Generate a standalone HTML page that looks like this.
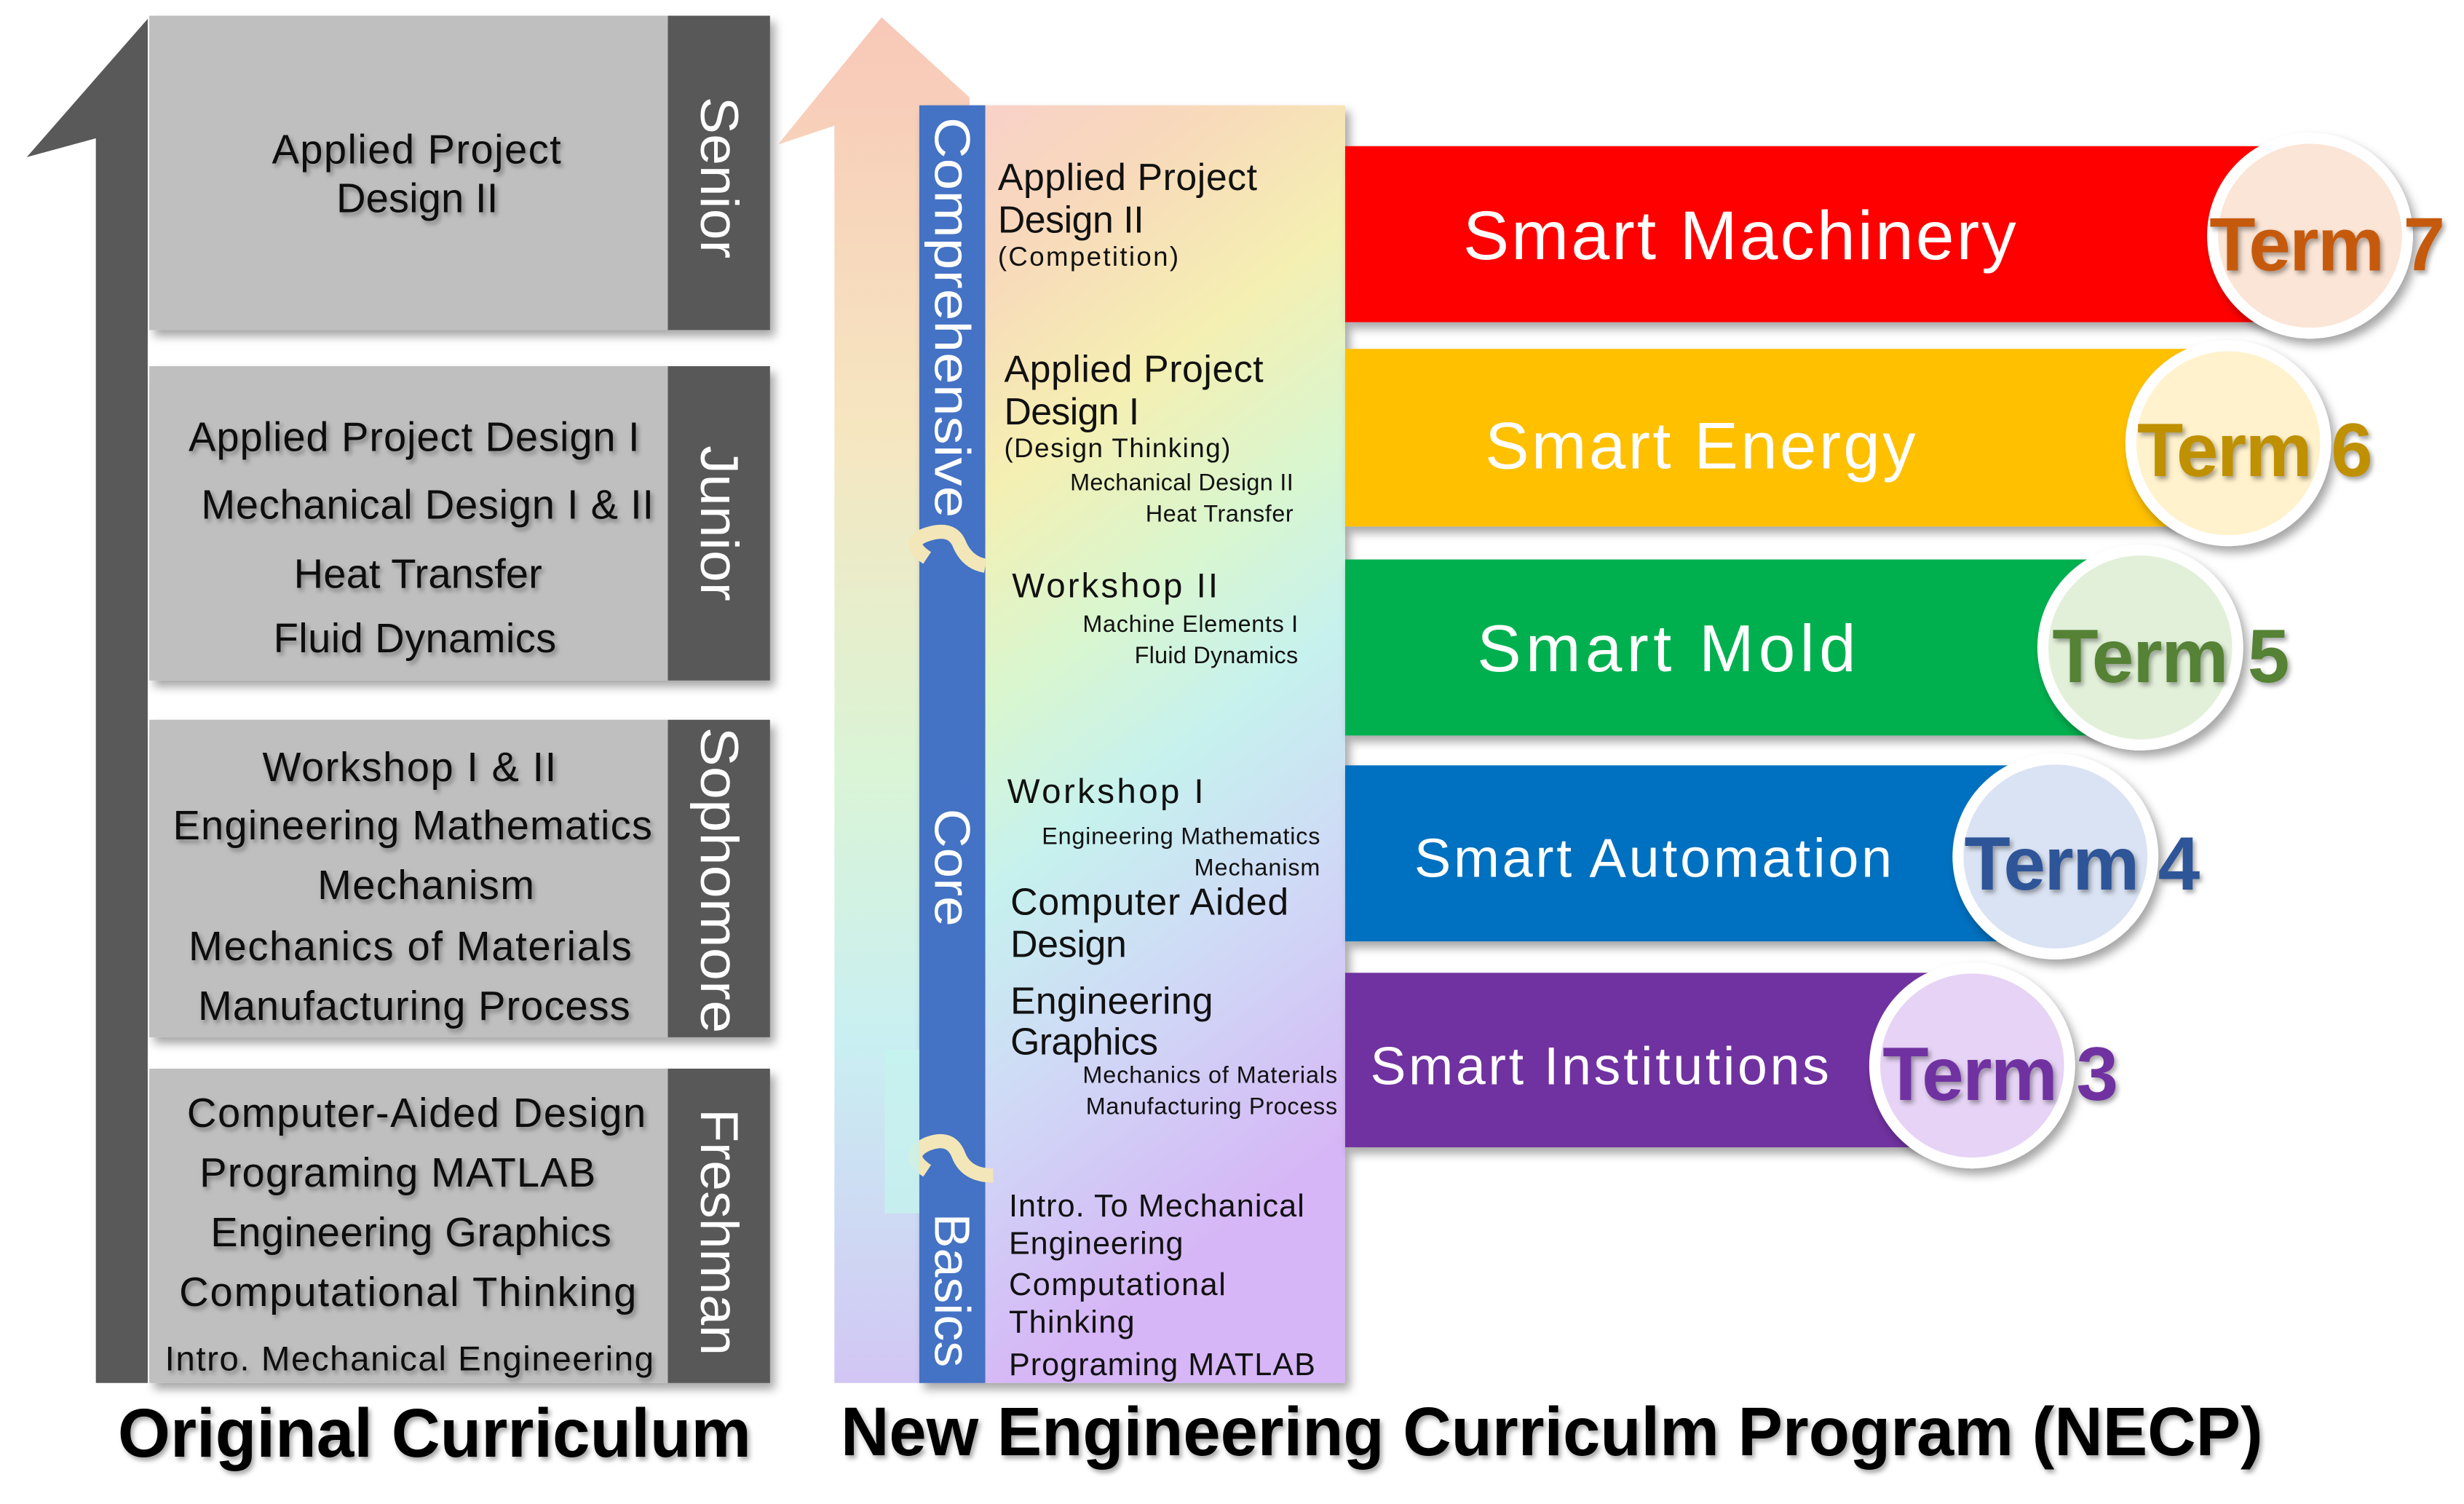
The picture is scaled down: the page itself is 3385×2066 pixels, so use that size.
<!DOCTYPE html>
<html><head><meta charset="utf-8"><style>
html,body{margin:0;padding:0;background:#fff;}
svg{display:block;}
text{font-family:"Liberation Sans",sans-serif;}
</style></head><body>
<svg width="3385" height="2066" viewBox="0 0 1568 957" preserveAspectRatio="none" xmlns="http://www.w3.org/2000/svg">
<defs>
<filter id="sh" x="-10%" y="-10%" width="130%" height="130%"><feDropShadow dx="3" dy="4" stdDeviation="3" flood-color="#000" flood-opacity="0.35"/></filter>
<filter id="ts" x="-5%" y="-20%" width="115%" height="160%"><feDropShadow dx="1.5" dy="2" stdDeviation="1.5" flood-color="#000" flood-opacity="0.35"/></filter>
<linearGradient id="rv" x1="0" y1="0" x2="0.25" y2="1">
<stop offset="0" stop-color="#f9cfcc"/>
<stop offset="0.15" stop-color="#f8d8bc"/>
<stop offset="0.32" stop-color="#f5efb2"/>
<stop offset="0.48" stop-color="#d9f6cf"/>
<stop offset="0.62" stop-color="#c6f1ee"/>
<stop offset="0.78" stop-color="#cfdaf6"/>
<stop offset="1" stop-color="#d6b6f6"/>
</linearGradient>
<linearGradient id="ra" x1="0" y1="0" x2="0" y2="1">
<stop offset="0" stop-color="#f8c8b8"/>
<stop offset="0.3" stop-color="#f6e6c0"/>
<stop offset="0.55" stop-color="#daf4d6"/>
<stop offset="0.75" stop-color="#c9eff2"/>
<stop offset="1" stop-color="#d2c6f4"/>
</linearGradient>
</defs>

<!-- LEFT: original curriculum -->
<polygon points="17,100 94,12 94,880 61,880 61,88" fill="#595959"/>
<g filter="url(#sh)">
<rect x="95" y="10" width="330" height="200" fill="#bfbfbf"/><rect x="425" y="10" width="65" height="200" fill="#595959"/>
<rect x="95" y="233" width="330" height="200" fill="#bfbfbf"/><rect x="425" y="233" width="65" height="200" fill="#595959"/>
<rect x="95" y="458" width="330" height="202" fill="#bfbfbf"/><rect x="425" y="458" width="65" height="202" fill="#595959"/>
<rect x="95" y="680" width="330" height="200" fill="#bfbfbf"/><rect x="425" y="680" width="65" height="200" fill="#595959"/>
</g>
<g font-size="26" fill="#111" filter="url(#ts)" lengthAdjust="spacingAndGlyphs">
<text x="173" y="104" textLength="184">Applied Project</text>
<text x="214" y="135" textLength="103">Design II</text>
<text x="120" y="287" textLength="287">Applied Project Design I</text>
<text x="128" y="330" textLength="288">Mechanical Design I &amp; II</text>
<text x="187" y="374" textLength="158">Heat Transfer</text>
<text x="174" y="415" textLength="180">Fluid Dynamics</text>
<text x="167" y="497" textLength="187">Workshop I &amp; II</text>
<text x="110" y="534" textLength="305">Engineering Mathematics</text>
<text x="202" y="572" textLength="138">Mechanism</text>
<text x="120" y="611" textLength="282">Mechanics of  Materials</text>
<text x="126" y="649" textLength="275">Manufacturing Process</text>
<text x="119" y="717" textLength="292">Computer-Aided Design</text>
<text x="127" y="755" textLength="252">Programing MATLAB</text>
<text x="134" y="793" textLength="255">Engineering Graphics</text>
<text x="114" y="831" textLength="291">Computational Thinking</text>
<text x="105" y="872" font-size="22" textLength="311">Intro. Mechanical Engineering</text>
</g>
<g font-size="34" fill="#fff" text-anchor="middle">
<text transform="translate(446,113) rotate(90)" textLength="103" lengthAdjust="spacingAndGlyphs">Senior</text>
<text transform="translate(446,333) rotate(90)" textLength="99" lengthAdjust="spacingAndGlyphs">Junior</text>
<text transform="translate(446,560) rotate(90)" textLength="195" lengthAdjust="spacingAndGlyphs">Sophomore</text>
<text transform="translate(446,784) rotate(90)" textLength="157" lengthAdjust="spacingAndGlyphs">Freshman</text>
</g>
<text x="75" y="927" font-size="44" font-weight="bold" fill="#000" filter="url(#ts)" textLength="403" lengthAdjust="spacingAndGlyphs">Original Curriculum</text>

<!-- MIDDLE: NECP -->
<polygon points="495,92 561,11 617,62 617,880 531,880 531,80" fill="url(#ra)"/>
<rect x="585" y="67" width="271" height="813" fill="url(#rv)" filter="url(#sh)"/>
<rect x="585" y="67" width="42" height="813" fill="#4472c4"/>
<path d="M590,355 Q575,345 590,340 Q605,335 610,345 Q615,358 627,360" fill="none" stroke="#f3e6b8" stroke-width="9"/>
<path d="M590,745 Q575,735 590,728 Q605,722 610,735 Q615,748 632,748" fill="none" stroke="#f3e6b8" stroke-width="9"/>
<rect x="563" y="668" width="22" height="104" fill="#c5f3ee" opacity="0.8"/>
<g font-size="32" fill="#fff" text-anchor="middle">
<text transform="translate(595,202) rotate(90)" textLength="255" lengthAdjust="spacingAndGlyphs">Comprehensive</text>
<text transform="translate(595,552) rotate(90)" textLength="75" lengthAdjust="spacingAndGlyphs">Core</text>
<text transform="translate(595,821) rotate(90)" textLength="98" lengthAdjust="spacingAndGlyphs">Basics</text>
</g>
<g fill="#111" lengthAdjust="spacingAndGlyphs">
<text x="635" y="121" font-size="24" textLength="165">Applied Project</text>
<text x="635" y="148" font-size="24" textLength="93">Design II</text>
<text x="635" y="169" font-size="17" textLength="115">(Competition)</text>
<text x="639" y="243" font-size="24" textLength="165">Applied Project</text>
<text x="639" y="270" font-size="24" textLength="86">Design I</text>
<text x="639" y="291" font-size="17" textLength="144">(Design Thinking)</text>
<text x="681" y="312" font-size="15" textLength="142">Mechanical Design II</text>
<text x="729" y="332" font-size="15" textLength="94">Heat Transfer</text>
<text x="644" y="380" font-size="22" textLength="131">Workshop II</text>
<text x="689" y="402" font-size="15" textLength="137">Machine Elements I</text>
<text x="722" y="422" font-size="15" textLength="104">Fluid Dynamics</text>
<text x="641" y="511" font-size="22" textLength="125">Workshop I</text>
<text x="663" y="537" font-size="15" textLength="177">Engineering Mathematics</text>
<text x="760" y="557" font-size="15" textLength="80">Mechanism</text>
<text x="643" y="582" font-size="24" textLength="177">Computer Aided</text>
<text x="643" y="609" font-size="24" textLength="74">Design</text>
<text x="643" y="645" font-size="24" textLength="129">Engineering</text>
<text x="643" y="671" font-size="24" textLength="94">Graphics</text>
<text x="689" y="689" font-size="15" textLength="162">Mechanics of Materials</text>
<text x="691" y="709" font-size="15" textLength="160">Manufacturing Process</text>
<text x="642" y="774" font-size="20" textLength="188">Intro. To Mechanical</text>
<text x="642" y="798" font-size="20" textLength="111">Engineering</text>
<text x="642" y="824" font-size="20" textLength="138">Computational</text>
<text x="642" y="848" font-size="20" textLength="80">Thinking</text>
<text x="642" y="875" font-size="20" textLength="195">Programing MATLAB</text>
</g>
<text x="535" y="926" font-size="44" font-weight="bold" fill="#000" filter="url(#ts)" textLength="905" lengthAdjust="spacingAndGlyphs">New Engineering Curriculm Program (NECP)</text>

<!-- RIGHT: bars -->
<g filter="url(#sh)">
<rect x="856" y="93" width="614" height="112" fill="#ff0000"/>
<rect x="856" y="222" width="562" height="113" fill="#ffc000"/>
<rect x="856" y="356" width="506" height="112" fill="#00b050"/>
<rect x="856" y="487" width="452" height="112" fill="#0070c0"/>
<rect x="856" y="619" width="399" height="111" fill="#7030a0"/>
</g>
<g fill="#fff" lengthAdjust="spacingAndGlyphs">
<text x="931" y="165" font-size="44" textLength="352">Smart Machinery</text>
<text x="945" y="298" font-size="42" textLength="274">Smart Energy</text>
<text x="940" y="427" font-size="42" textLength="241">Smart Mold</text>
<text x="900" y="558" font-size="35" textLength="304">Smart Automation</text>
<text x="872" y="690" font-size="34" textLength="292">Smart Institutions</text>
</g>
<g filter="url(#sh)" stroke="#fff" stroke-width="7">
<circle cx="1470" cy="150" r="62" fill="#fbe5d6"/>
<circle cx="1418" cy="282" r="62" fill="#fff2cc"/>
<circle cx="1362" cy="412" r="62" fill="#e2f0d9"/>
<circle cx="1308" cy="545" r="62" fill="#dae3f3"/>
<circle cx="1255" cy="678" r="62" fill="#e6d3f5"/>
</g>
<g font-size="48" font-weight="bold" filter="url(#ts)" lengthAdjust="spacingAndGlyphs">
<text x="1406" y="172" fill="#c55a11" textLength="150">Term 7</text>
<text x="1360" y="303" fill="#bf9000" textLength="150">Term 6</text>
<text x="1306" y="434" fill="#548235" textLength="151">Term 5</text>
<text x="1250" y="566" fill="#2f5597" textLength="150">Term 4</text>
<text x="1198" y="700" fill="#7030a0" textLength="150">Term 3</text>
</g>
</svg>
</body></html>
